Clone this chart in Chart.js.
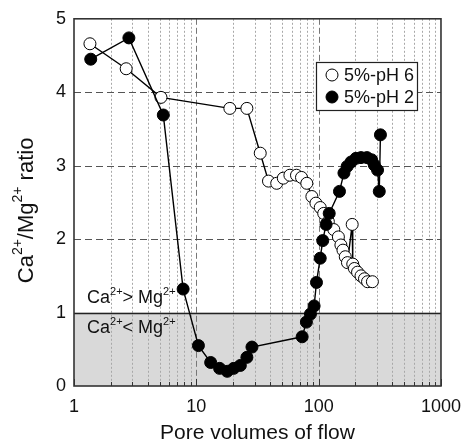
<!DOCTYPE html>
<html><head><meta charset="utf-8">
<script src="https://cdn.jsdelivr.net/npm/chart.js@4/dist/chart.umd.min.js"></script>
<style>html,body{margin:0;padding:0;background:#fff}#wrap{width:471px;height:446px}</style>
</head><body><div id="wrap"><canvas id="c" width="471" height="446"></canvas></div>
<script>
// ---- data ----
const seriesNames = ['5%-pH 6', '5%-pH 2'];
const pH6X = [1.35, 2.67, 5.14, 18.8, 25.9, 33.3, 38.9, 45.4, 51.4, 58.2, 65.9, 72.4, 80, 88, 95, 103, 110, 120, 133, 145, 152, 158, 165, 172, 188, 190, 196, 208, 222, 237, 251, 275];
const pH6Y = [4.66, 4.32, 3.93, 3.78, 3.78, 3.17, 2.79, 2.76, 2.83, 2.87, 2.87, 2.84, 2.76, 2.58, 2.49, 2.43, 2.35, 2.24, 2.13, 2.03, 1.92, 1.85, 1.76, 1.68, 2.2, 1.66, 1.6, 1.55, 1.5, 1.46, 1.42, 1.42];
const pH2X = [1.37, 2.81, 5.37, 7.8, 10.4, 13.1, 15.5, 17.9, 20.2, 22.9, 25.9, 28.5, 73.3, 79.4, 85.7, 91.8, 96, 103, 108, 115, 122, 148, 161, 171, 184, 202, 222, 248, 271, 285, 303, 313, 320];
const pH2Y = [4.45, 4.74, 3.69, 1.32, 0.55, 0.32, 0.24, 0.2, 0.24, 0.28, 0.39, 0.53, 0.67, 0.87, 0.98, 1.09, 1.41, 1.74, 1.98, 2.2, 2.35, 2.65, 2.9, 2.99, 3.05, 3.1, 3.11, 3.11, 3.08, 3.01, 2.94, 2.65, 3.42];
const xTickLabels = [1, 10, 100, 1000];
const xMinorTicks = [2,3,4,5,6,7,8,9,20,30,40,50,60,70,80,90,200,300,400,500,600,700,800,900];
const yTickValues = [0, 1, 2, 3, 4, 5];
const yDashedGrid = [2, 3, 4];
const thresholdValue = 1;
const xTitle = 'Pore volumes of flow';
const yTitleParts = [['Ca', false], ['2+', true], ['/Mg', false], ['2+', true], [' ratio', false]];
const upperLabel = [['Ca', false], ['2+', true], ['> Mg', false], ['2+', true]];
const lowerLabel = [['Ca', false], ['2+', true], ['< Mg', false], ['2+', true]];

const FONT = "'Liberation Sans', Arial, sans-serif";

function drawRich(ctx, parts, x, y, size) {
  let cx = x;
  for (const [t, sup] of parts) {
    ctx.font = (sup ? Math.round(size * 0.62) : size) + 'px ' + FONT;
    ctx.fillText(t, cx, sup ? y - size * 0.42 : y);
    cx += ctx.measureText(t).width;
  }
  return cx - x;
}
function richWidth(ctx, parts, size) {
  let w = 0;
  for (const [t, sup] of parts) {
    ctx.font = (sup ? Math.round(size * 0.62) : size) + 'px ' + FONT;
    w += ctx.measureText(t).width;
  }
  return w;
}

const decor = {
  id: 'decor',
  beforeDatasetsDraw(chart) {
    const ctx = chart.ctx, xs = chart.scales.x, ys = chart.scales.y;
    const {left, right, top, bottom} = chart.chartArea;
    ctx.save();
    const y0 = ys.getPixelForValue(0), y1 = ys.getPixelForValue(thresholdValue);
    ctx.fillStyle = '#d9d9d9';
    ctx.fillRect(left, y1, right - left, y0 - y1);
    ctx.lineWidth = 1;
    ctx.strokeStyle = '#a8a8a8';
    ctx.setLineDash([2, 2]);
    for (const v of xMinorTicks) {
      const px = Math.round(xs.getPixelForValue(v)) + 0.5;
      ctx.beginPath(); ctx.moveTo(px, top); ctx.lineTo(px, bottom); ctx.stroke();
    }
    ctx.strokeStyle = '#777';
    ctx.setLineDash([6, 3]);
    for (const v of [10, 100]) {
      const px = Math.round(xs.getPixelForValue(v)) + 0.5;
      ctx.beginPath(); ctx.moveTo(px, top); ctx.lineTo(px, bottom); ctx.stroke();
    }
    ctx.strokeStyle = '#555';
    ctx.setLineDash([7, 4]);
    for (const v of yDashedGrid) {
      const py = Math.round(ys.getPixelForValue(v)) + 0.5;
      ctx.beginPath(); ctx.moveTo(left, py); ctx.lineTo(right, py); ctx.stroke();
    }
    ctx.setLineDash([]);
    ctx.strokeStyle = '#222';
    ctx.lineWidth = 1.3;
    ctx.beginPath(); ctx.moveTo(left, Math.round(y1) + 0.5); ctx.lineTo(right, Math.round(y1) + 0.5); ctx.stroke();
    ctx.strokeStyle = '#333';
    ctx.lineWidth = 1;
    for (const v of xMinorTicks) {
      const px = Math.round(xs.getPixelForValue(v)) + 0.5;
      ctx.beginPath(); ctx.moveTo(px, bottom); ctx.lineTo(px, bottom - 4); ctx.stroke();
    }
    for (const v of xTickLabels) {
      const px = Math.round(xs.getPixelForValue(v)) + 0.5;
      ctx.beginPath(); ctx.moveTo(px, bottom); ctx.lineTo(px, bottom - 7); ctx.stroke();
    }
    ctx.restore();
  },
  afterDatasetsDraw(chart) {
    const ctx = chart.ctx;
    const {left, right, top, bottom} = chart.chartArea;
    ctx.save();
    ctx.strokeStyle = '#333';
    ctx.lineWidth = 1.6;
    ctx.strokeRect(left, top, right - left, bottom - top);
    ctx.fillStyle = '#111';
    ctx.textBaseline = 'alphabetic';
    ctx.textAlign = 'left';
    const yT = chart.scales.y.getPixelForValue(thresholdValue);
    drawRich(ctx, upperLabel, left + 13, yT - 10, 18);
    drawRich(ctx, lowerLabel, left + 13, yT + 20, 18);
    const lx = 316, ly = 62, lw = 101, lh = 48;
    ctx.fillStyle = '#fff';
    ctx.fillRect(lx, ly, lw, lh);
    ctx.strokeStyle = '#222';
    ctx.lineWidth = 1.2;
    ctx.strokeRect(lx + 0.5, ly + 0.5, lw, lh);
    chart.data.datasets.forEach((ds, i) => {
      const cy = ly + 13 + i * 22;
      ctx.beginPath();
      ctx.arc(lx + 16, cy, 6, 0, Math.PI * 2);
      ctx.fillStyle = ds.pointBackgroundColor;
      ctx.fill();
      ctx.strokeStyle = '#000';
      ctx.lineWidth = 1;
      ctx.stroke();
      ctx.fillStyle = '#111';
      ctx.font = '18px ' + FONT;
      ctx.textBaseline = 'middle';
      ctx.fillText(ds.label, lx + 28, cy + 1);
    });
    ctx.translate(27, (top + bottom) / 2 + 8);
    ctx.rotate(-Math.PI / 2);
    ctx.fillStyle = '#111';
    ctx.textBaseline = 'middle';
    const w = richWidth(ctx, yTitleParts, 22);
    drawRich(ctx, yTitleParts, -w / 2, 0, 22);
    ctx.restore();
  }
};

new Chart(document.getElementById('c'), {
  type: 'line',
  data: {
    datasets: [
      { label: seriesNames[0], data: pH6X.map((x, i) => ({x, y: pH6Y[i]})), order: 2,
        borderColor: '#000', borderWidth: 1.4, pointRadius: 6, pointHoverRadius: 6,
        pointBackgroundColor: '#fff', pointBorderColor: '#000', pointBorderWidth: 1, tension: 0, fill: false },
      { label: seriesNames[1], data: pH2X.map((x, i) => ({x, y: pH2Y[i]})), order: 1,
        borderColor: '#000', borderWidth: 1.4, pointRadius: 6, pointHoverRadius: 6,
        pointBackgroundColor: '#000', pointBorderColor: '#000', pointBorderWidth: 1, tension: 0, fill: false }
    ]
  },
  options: {
    responsive: false,
    animation: false,
    devicePixelRatio: 1,
    layout: { padding: { top: 17, right: 27, left: 0, bottom: 0 } },
    plugins: { legend: { display: false }, tooltip: { enabled: false } },
    scales: {
      x: {
        type: 'logarithmic', min: 1, max: 1000,
        afterBuildTicks(s) { s.ticks = xTickLabels.map(v => ({value: v, major: true})); },
        afterFit(s) { s.height = 60; },
        grid: { display: false, drawTicks: false },
        border: { display: false },
        ticks: { color: '#111', padding: 10, font: { size: 18, family: FONT },
                 callback: (v) => String(v), maxRotation: 0, autoSkip: false },
        title: { display: true, text: xTitle, color: '#111', font: { size: 21, family: FONT }, padding: { top: 0, bottom: 0 } }
      },
      y: {
        min: 0, max: 5,
        afterBuildTicks(s) { s.ticks = yTickValues.map(v => ({value: v})); },
        afterFit(s) { s.width = 74; },
        grid: { display: false, drawTicks: false },
        border: { display: false },
        ticks: { color: '#111', padding: 8, font: { size: 18, family: FONT } }
      }
    }
  },
  plugins: [decor]
});
</script></body></html>
